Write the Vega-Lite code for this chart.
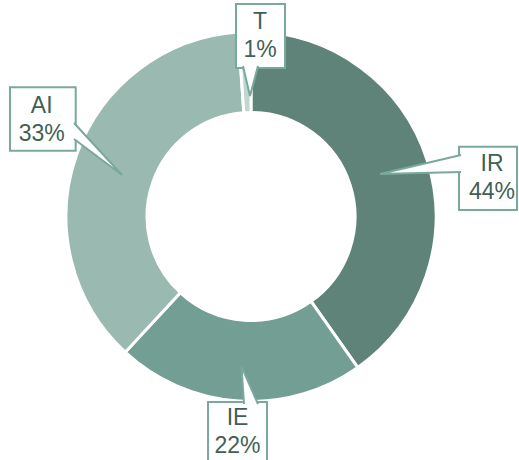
{
  "$schema": "https://vega.github.io/schema/vega-lite/v6.json",
  "width": 502,
  "height": 433,
  "padding": {"left": 0, "top": 0, "right": 17, "bottom": 27},
  "autosize": {"type": "none"},
  "background": "white",
  "config": {"view": {"stroke": null}},
  "datasets": {
    "slices": [
      {"cat": "IR", "value": 40.2, "ord": 1},
      {"cat": "IE", "value": 21.7, "ord": 2},
      {"cat": "AI", "value": 37.0, "ord": 3},
      {"cat": "T", "value": 1.1, "ord": 4}
    ],
    "boxes": [
      {"cat": "T", "x1": -15, "x2": 34, "y1": 148.5, "y2": 212.5, "tx": 9, "ty": 195, "label": "T\n1%"},
      {"cat": "IR", "x1": 208, "x2": 266, "y1": 6.5, "y2": 69.8, "tx": 241, "ty": 52.5, "label": "IR\n44%"},
      {"cat": "AI", "x1": -241, "x2": -175.3, "y1": 65.8, "y2": 129.2, "tx": -209.3, "ty": 111, "label": "AI\n33%"},
      {"cat": "IE", "x1": -43, "x2": 16, "y1": -245.5, "y2": -185.5, "tx": -13.5, "ty": -201, "label": "IE\n22%"}
    ],
    "pointers": [
      {"id": "T", "i": 1, "px": -8, "py": 150.5},
      {"id": "T", "i": 2, "px": -1, "py": 120.5},
      {"id": "T", "i": 3, "px": 7, "py": 150.5},
      {"id": "IR", "i": 1, "px": 210, "py": 61.5},
      {"id": "IR", "i": 2, "px": 129, "py": 42.5},
      {"id": "IR", "i": 3, "px": 210, "py": 44.5},
      {"id": "AI", "i": 1, "px": -177, "py": 93.5},
      {"id": "AI", "i": 2, "px": -129, "py": 41.5},
      {"id": "AI", "i": 3, "px": -177, "py": 77.5},
      {"id": "IE", "i": 1, "px": -7, "py": -187.5},
      {"id": "IE", "i": 2, "px": -9.5, "py": -150},
      {"id": "IE", "i": 3, "px": 7, "py": -187.5}
    ]
  },
  "layer": [
    {
      "data": {"name": "slices"},
      "mark": {"type": "arc", "radius": 185, "innerRadius": 104, "stroke": "white", "strokeWidth": 3},
      "encoding": {
        "theta": {"field": "value", "type": "quantitative", "stack": true},
        "order": {"field": "ord", "type": "quantitative"},
        "color": {
          "field": "cat",
          "type": "nominal",
          "scale": {"domain": ["IR", "IE", "AI", "T"], "range": ["#5f8379", "#729e93", "#9ab9b0", "#c2d6d0"]},
          "legend": null
        }
      }
    },
    {
      "data": {"name": "boxes"},
      "mark": {"type": "rect", "fill": "white", "stroke": "#7aa89c", "strokeWidth": 2},
      "encoding": {
        "x": {"field": "x1", "type": "quantitative", "scale": {"domain": [-251, 251], "nice": false, "zero": false}, "axis": null},
        "x2": {"field": "x2"},
        "y": {"field": "y1", "type": "quantitative", "scale": {"domain": [-216.5, 216.5], "nice": false, "zero": false}, "axis": null},
        "y2": {"field": "y2"}
      }
    },
    {
      "data": {"name": "pointers"},
      "mark": {"type": "line", "fill": "white", "stroke": "#7aa89c", "strokeWidth": 2, "strokeJoin": "miter"},
      "encoding": {
        "x": {"field": "px", "type": "quantitative"},
        "y": {"field": "py", "type": "quantitative"},
        "detail": {"field": "id"},
        "order": {"field": "i", "type": "quantitative"}
      }
    },
    {
      "data": {"name": "boxes"},
      "mark": {"type": "text", "font": "Liberation Sans", "fontSize": 23, "color": "#3f5f57", "lineBreak": "\n", "lineHeight": 28, "baseline": "middle", "align": "center"},
      "encoding": {
        "x": {"field": "tx", "type": "quantitative"},
        "y": {"field": "ty", "type": "quantitative"},
        "text": {"field": "label"}
      }
    }
  ]
}
